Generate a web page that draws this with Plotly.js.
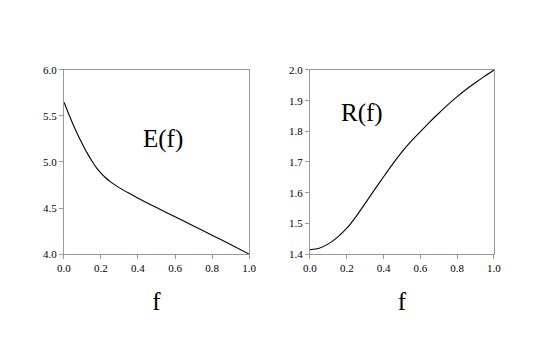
<!DOCTYPE html>
<html lang="en">
<head>
    <meta charset="UTF-8">
    <title>E(f) and R(f)</title>
    <script src="https://cdn.plot.ly/plotly-3.0.1.min.js"></script>
    <style>
        body { margin: 0; background: #fff; }
        #graph { width: 545px; height: 348px; }
    </style>
</head>
<body>
    <div id="graph"></div>
    <script>
        // values
        var fE = [0, 0.025, 0.05, 0.075, 0.1, 0.125, 0.15, 0.175, 0.2, 0.225, 0.25, 0.275, 0.3, 0.35, 0.4, 0.5, 0.6, 0.7, 0.8, 0.9, 1.0];
        var eVals = [5.649, 5.524, 5.404, 5.294, 5.194, 5.099, 5.014, 4.939, 4.879, 4.829, 4.787, 4.751, 4.719, 4.662, 4.607, 4.505, 4.405, 4.305, 4.205, 4.103, 4.0];

        var fR = [0, 0.05, 0.1, 0.15, 0.2, 0.25, 0.3, 0.35, 0.4, 0.45, 0.5, 0.55, 0.6, 0.65, 0.7, 0.75, 0.8, 0.85, 0.9, 0.95, 1.0];
        var rVals = [1.414, 1.419, 1.433, 1.455, 1.484, 1.522, 1.565, 1.609, 1.652, 1.694, 1.733, 1.768, 1.799, 1.830, 1.859, 1.887, 1.913, 1.937, 1.959, 1.980, 2.0];

        var xTicks = [0, 0.2, 0.4, 0.6, 0.8, 1.0];
        var eTicks = [4.0, 4.5, 5.0, 5.5, 6.0];
        var rTicks = [1.4, 1.5, 1.6, 1.7, 1.8, 1.9, 2.0];

        var serif = "'Liberation Serif', 'Times New Roman', serif";

        var traces = [
            { x: fE, y: eVals, xaxis: 'x', yaxis: 'y', mode: 'lines',
              line: { color: '#000', width: 1.1, shape: 'spline', smoothing: 0.7 }, hoverinfo: 'none' },
            { x: fR, y: rVals, xaxis: 'x2', yaxis: 'y2', mode: 'lines',
              line: { color: '#000', width: 1.1, shape: 'spline', smoothing: 0.7 }, hoverinfo: 'none' }
        ];

        function xAxis(domain, anchor) {
            return {
                domain: domain, anchor: anchor, range: [0, 1],
                tickvals: xTicks, ticktext: xTicks.map(function (v) { return v.toFixed(1); }),
                ticks: 'outside', ticklen: 4, tickcolor: '#999',
                showline: true, linecolor: '#999', linewidth: 1, mirror: true,
                showgrid: false, zeroline: false,
                tickfont: { family: serif, size: 11, color: '#000' },
                title: { text: 'f', font: { family: serif, size: 25, color: '#000' }, standoff: 19 }
            };
        }

        function yAxis(domain, anchor, range, ticks) {
            return {
                domain: domain, anchor: anchor, range: range,
                tickvals: ticks, ticktext: ticks.map(function (v) { return v.toFixed(1); }),
                ticks: 'outside', ticklen: 4, tickcolor: '#999',
                showline: true, linecolor: '#999', linewidth: 1, mirror: true,
                showgrid: false, zeroline: false,
                tickfont: { family: serif, size: 11, color: '#000' }
            };
        }

        var yDom = [0.2701, 0.7989];

        var layout = {
            width: 545, height: 348,
            margin: { l: 0, r: 0, t: 0, b: 0 },
            showlegend: false,
            paper_bgcolor: '#fff', plot_bgcolor: '#fff',
            xaxis: xAxis([0.1174, 0.4569], 'y'),
            yaxis: yAxis(yDom, 'x', [4.0, 6.0], eTicks),
            xaxis2: xAxis([0.5688, 0.9064], 'y2'),
            yaxis2: yAxis(yDom, 'x2', [1.4, 2.0], rTicks),
            annotations: [
                { xref: 'x', yref: 'y', x: 0.535, y: 5.25, text: 'E(f)', showarrow: false,
                  font: { family: serif, size: 25, color: '#000' } },
                { xref: 'x2', yref: 'y2', x: 0.283, y: 1.86, text: 'R(f)', showarrow: false,
                  font: { family: serif, size: 25, color: '#000' } }
            ]
        };

        Plotly.newPlot('graph', traces, layout, { staticPlot: true });
    </script>
</body>
</html>
